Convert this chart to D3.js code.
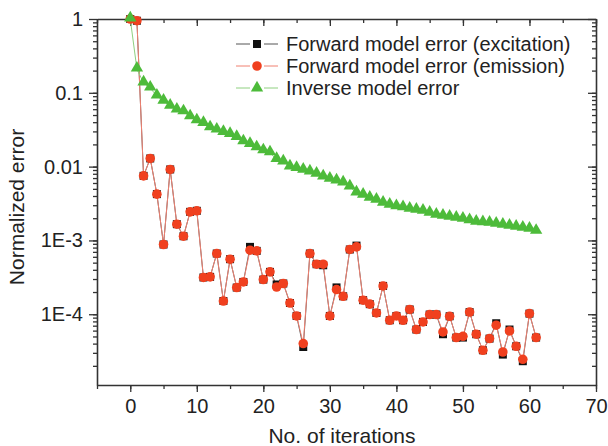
<!DOCTYPE html>
<html>
<head>
<meta charset="utf-8">
<script src="https://cdn.jsdelivr.net/npm/d3@7"></script>
<style>
  body { margin: 0; background: #fff; }
  svg text { font-family: "Liberation Sans", Arial, Helvetica, sans-serif; fill: #222; }
</style>
</head>
<body>
<svg id="chart" width="608" height="446"></svg>
<script>
var iterations = d3.range(0, 62);

var excitation = [1, 0.948, 0.0075, 0.0129, 0.00424, 0.000881, 0.00916, 0.00166, 0.00114, 0.00244,
  0.00252, 0.000315, 0.000321, 0.000665, 0.000151, 0.000557, 0.00023, 0.000274, 0.000818, 0.000722,
  0.000295, 0.000375, 0.000253, 0.000261, 0.000142, 0.0000948, 0.000036, 0.000665, 0.000476, 0.000461,
  0.0000948, 0.000231, 0.000175, 0.000754, 0.000851, 0.000155, 0.000137, 0.000104, 0.000242, 0.0000829,
  0.0000948, 0.0000829, 0.000116, 0.0000621, 0.0000787, 0.0000991, 0.0000991, 0.0000536, 0.0000939, 0.0000483,
  0.0000483, 0.000107, 0.0000536, 0.0000325, 0.0000468, 0.0000755, 0.0000284, 0.0000621, 0.0000368, 0.0000231,
  0.000102, 0.0000483];

var emission = [1, 0.948, 0.0075, 0.0129, 0.00424, 0.000881, 0.00916, 0.00166, 0.00114, 0.00244,
  0.00252, 0.000315, 0.000321, 0.000665, 0.000151, 0.000557, 0.00023, 0.000274, 0.000738, 0.000722,
  0.000295, 0.000375, 0.000234, 0.000261, 0.000142, 0.0000948, 0.0000401, 0.000665, 0.000476, 0.000476,
  0.0000948, 0.000216, 0.000175, 0.000754, 0.000818, 0.000155, 0.000137, 0.000104, 0.000242, 0.0000829,
  0.0000948, 0.0000829, 0.000116, 0.0000621, 0.0000787, 0.0000991, 0.0000991, 0.0000575, 0.0000939, 0.0000483,
  0.0000503, 0.000107, 0.0000536, 0.0000325, 0.0000468, 0.000071, 0.0000308, 0.0000594, 0.0000368, 0.0000245,
  0.000102, 0.0000483];

var inverse = [1, 0.21, 0.136, 0.116, 0.0904, 0.0773, 0.0661, 0.0584, 0.0553, 0.0473,
  0.0418, 0.0385, 0.0336, 0.0313, 0.0291, 0.0273, 0.0249, 0.0217, 0.02, 0.018,
  0.0164, 0.0154, 0.0125, 0.0116, 0.00993, 0.00945, 0.00897, 0.0085, 0.00791, 0.00727,
  0.00677, 0.00642, 0.00603, 0.00532, 0.00441, 0.00411, 0.00374, 0.00352, 0.0032, 0.00301,
  0.00287, 0.00278, 0.00265, 0.00257, 0.00249, 0.00234, 0.0022, 0.00213, 0.00207, 0.002,
  0.00194, 0.00185, 0.00177, 0.00174, 0.00171, 0.00166, 0.00161, 0.00156, 0.00151, 0.00147,
  0.00142, 0.00133];

var xTicks = [0, 10, 20, 30, 40, 50, 60, 70];
var yTicks = [1, 0.1, 0.01, 0.001, 0.0001];
var yTickLabels = ["1", "0.1", "0.01", "1E-3", "1E-4"];
var legendLabels = ["Forward model error (excitation)", "Forward model error (emission)", "Inverse model error"];

var mLeft = 97, mRight = 596, mTop = 19, mBottom = 385;
var svg = d3.select("#chart");

var x = d3.scaleLinear().domain([-5, 70]).range([mLeft, mRight]);
var y = d3.scaleLog().domain([1.1e-5, 1]).range([mBottom, mTop]);

// minor ticks
var xMinor = d3.range(-5, 71, 5);
var yMinor = [];
[1e-5, 1e-4, 1e-3, 1e-2, 1e-1].forEach(function(dec) {
  for (var k = 1; k <= 9; k++) {
    var v = dec * k;
    if (v >= 1.1e-5 && v <= 1) yMinor.push(v);
  }
});

var axisColor = "#333";

// bottom axis
svg.append("g").attr("transform", "translate(0," + mBottom + ")")
  .call(d3.axisBottom(x).tickValues(xMinor).tickSize(4).tickFormat(""))
  .call(function(g) { g.select(".domain").remove(); });
svg.append("g").attr("class", "xaxis").attr("transform", "translate(0," + mBottom + ")")
  .call(d3.axisBottom(x).tickValues(xTicks).tickSize(7).tickSizeOuter(0).tickPadding(7).tickFormat(d3.format("d")));

// top axis (ticks inward)
svg.append("g").attr("transform", "translate(0," + mTop + ")")
  .call(d3.axisBottom(x).tickValues(xMinor).tickSize(4).tickFormat(""))
  .call(function(g) { g.select(".domain").remove(); });
svg.append("g").attr("transform", "translate(0," + mTop + ")")
  .call(d3.axisBottom(x).tickValues(xTicks).tickSize(7).tickSizeOuter(0).tickFormat(""));

// left axis
svg.append("g").attr("transform", "translate(" + mLeft + ",0)")
  .call(d3.axisLeft(y).tickValues(yMinor).tickSize(4).tickFormat(""))
  .call(function(g) { g.select(".domain").remove(); });
svg.append("g").attr("class", "yaxis").attr("transform", "translate(" + mLeft + ",0)")
  .call(d3.axisLeft(y).tickValues(yTicks).tickSize(8).tickSizeOuter(0).tickPadding(6)
    .tickFormat(function(d, i) { return yTickLabels[i]; }));

// right axis (ticks inward)
svg.append("g").attr("transform", "translate(" + mRight + ",0)")
  .call(d3.axisLeft(y).tickValues(yMinor).tickSize(4).tickFormat(""))
  .call(function(g) { g.select(".domain").remove(); });
svg.append("g").attr("transform", "translate(" + mRight + ",0)")
  .call(d3.axisLeft(y).tickValues(yTicks).tickSize(8).tickSizeOuter(0).tickFormat(""));

svg.selectAll(".domain").attr("stroke", axisColor).attr("stroke-width", 1.6);
svg.selectAll(".tick line").attr("stroke", axisColor).attr("stroke-width", 1.3);
svg.selectAll(".tick text").attr("font-size", 20).attr("fill", "#222")
  .attr("font-family", "'Liberation Sans', Arial, sans-serif");

// axis titles
svg.append("text").attr("x", 342).attr("y", 443)
  .attr("text-anchor", "middle").attr("font-size", 21).text("No. of iterations");
svg.append("text").attr("transform", "translate(24,207) rotate(-90)")
  .attr("text-anchor", "middle").attr("font-size", 21).text("Normalized error");

var red = "#f0401f", green = "#4dbb3a";

function lineFor(vals) {
  return d3.line().x(function(d, i) { return x(iterations[i]); }).y(function(d) { return y(d); })(vals);
}

var plot = svg.append("g");

plot.append("path").attr("d", lineFor(excitation)).attr("fill", "none").attr("stroke", "#333").attr("stroke-width", 0.8);
plot.append("path").attr("d", lineFor(emission)).attr("fill", "none").attr("stroke", "#f08070").attr("stroke-width", 1);
plot.append("path").attr("d", lineFor(inverse)).attr("fill", "none").attr("stroke", "#8fd080").attr("stroke-width", 1);

var square = d3.symbol().type(d3.symbolSquare).size(64);
var circle = d3.symbol().type(d3.symbolCircle).size(72);
var triangle = d3.symbol().type(d3.symbolTriangle).size(66);

plot.selectAll(".sq").data(excitation).enter().append("path")
  .attr("d", square)
  .attr("transform", function(d, i) { return "translate(" + x(iterations[i]) + "," + y(d) + ")"; })
  .attr("fill", "#111");
plot.selectAll(".ci").data(emission).enter().append("path")
  .attr("d", circle)
  .attr("transform", function(d, i) { return "translate(" + x(iterations[i]) + "," + y(d) + ")"; })
  .attr("fill", red);
plot.selectAll(".tr").data(inverse).enter().append("path")
  .attr("d", triangle)
  .attr("transform", function(d, i) { return "translate(" + x(iterations[i]) + "," + (y(d) - 1) + ")"; })
  .attr("fill", green);

// legend: line, gap, marker, gap, line
var legendColors = ["#555", "#f08070", "#8fd080"];
var legendMarks = [square, circle, triangle];
var legendFill = ["#111", red, green];
var legend = svg.append("g");
legendLabels.forEach(function(label, i) {
  var ly = 44 + i * 22;
  [[236, 250], [264, 278]].forEach(function(seg) {
    legend.append("line").attr("x1", seg[0]).attr("x2", seg[1]).attr("y1", ly).attr("y2", ly)
      .attr("stroke", legendColors[i]).attr("stroke-width", 1);
  });
  legend.append("path").attr("d", legendMarks[i]).attr("transform", "translate(257," + ly + ")")
    .attr("fill", legendFill[i]);
  legend.append("text").attr("x", 286).attr("y", ly + 7).attr("font-size", 20).text(label);
});
</script>
</body>
</html>
